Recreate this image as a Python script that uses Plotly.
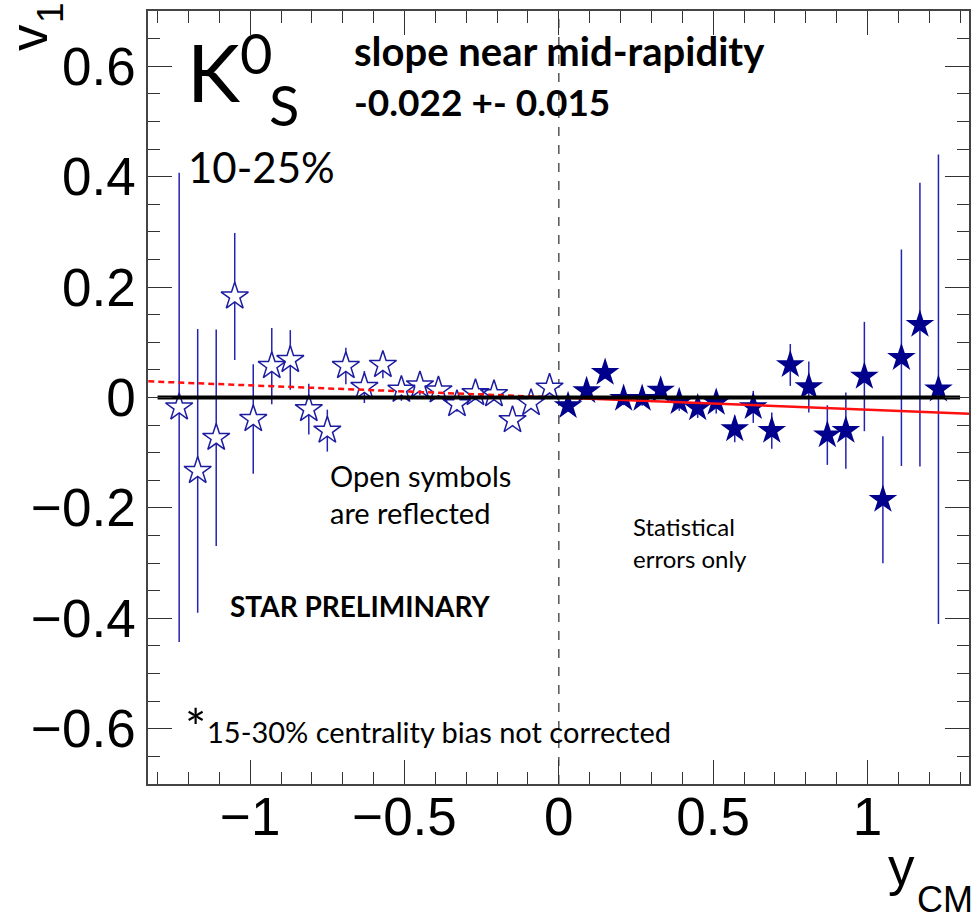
import plotly.graph_objects as go

# ---------------- data ----------------
y_filled = [0.03, 0.09, 0.15, 0.21, 0.27, 0.33, 0.39, 0.45, 0.51, 0.57, 0.63,
            0.69, 0.75, 0.81, 0.87, 0.93, 0.99, 1.05, 1.11, 1.17, 1.23]
v1_filled = [-0.015, 0.012, 0.045, -0.002, -0.002, 0.013, -0.008, -0.019, -0.009, -0.057, -0.017,
             -0.060, 0.059, 0.019, -0.068, -0.060, 0.038, -0.185, 0.072, 0.132, 0.015]
err_filled = [0.011, 0.011, 0.011, 0.012, 0.013, 0.014, 0.016, 0.018, 0.020, 0.024, 0.029,
              0.033, 0.038, 0.046, 0.054, 0.069, 0.099, 0.115, 0.196, 0.257, 0.425]

y_open = [-1.23, -1.17, -1.11, -1.05, -0.99, -0.93, -0.87, -0.81, -0.75, -0.69, -0.63,
          -0.57, -0.51, -0.45, -0.39, -0.33, -0.27, -0.21, -0.15, -0.09, -0.03]
v1_open = [-0.018, -0.133, -0.073, 0.183, -0.039, 0.057, 0.068, -0.021, -0.060, 0.057, 0.019,
           0.059, 0.014, 0.022, 0.013, -0.012, 0.008, 0.006, -0.041, -0.010, 0.018]
err_open = [0.425, 0.257, 0.196, 0.115, 0.099, 0.069, 0.054, 0.046, 0.038, 0.033, 0.029,
            0.024, 0.020, 0.018, 0.016, 0.014, 0.013, 0.012, 0.011, 0.011, 0.011]

fit_slope = -0.022
fit_x_solid = [0.0, 1.33]
fit_x_dashed = [-1.33, 0.0]
zero_x = [-1.3, 1.3]

# ---------------- style ----------------
W, H = 973, 921
L, R, T, B = 148, 4, 11, 137
NAVY = "#00008c"
BAR = "#2323b0"
OPEN = "#1c1ca0"
TEXTFONT = "Lato"
AXFONT = "Liberation Sans, Arial, sans-serif"


def px(xp):
    return (xp - L) / (W - L - R)


def py(yp):
    return (H - B - yp) / (H - B - T)


fig = go.Figure()

# error bars (open)
fig.add_trace(go.Scatter(x=y_open, y=v1_open, mode="markers",
                         marker=dict(size=1, opacity=0),
                         error_y=dict(type="data", array=err_open, color=BAR, thickness=1.5, width=0),
                         hoverinfo="skip", showlegend=False))
# white backing so bars don't show through open stars
fig.add_trace(go.Scatter(x=y_open, y=v1_open, mode="markers",
                         marker=dict(symbol="star", size=20, color="white", line=dict(width=0)),
                         hoverinfo="skip", showlegend=False))
fig.add_trace(go.Scatter(x=y_open, y=v1_open, mode="markers",
                         marker=dict(symbol="star-open", size=20.5, color=OPEN, line=dict(width=1.5, color=OPEN)),
                         showlegend=False))
# filled stars
fig.add_trace(go.Scatter(x=y_filled, y=v1_filled, mode="markers",
                         marker=dict(symbol="star", size=21.5, color=NAVY, line=dict(width=0)),
                         error_y=dict(type="data", array=err_filled, color=BAR, thickness=1.5, width=0),
                         showlegend=False))

# fit lines
fig.add_trace(go.Scatter(x=fit_x_dashed, y=[fit_slope * v for v in fit_x_dashed], mode="lines",
                         line=dict(color="#ff1010", width=2.5, dash="6px,4px"), showlegend=False))
fig.add_trace(go.Scatter(x=fit_x_solid, y=[fit_slope * v for v in fit_x_solid], mode="lines",
                         line=dict(color="#ff1010", width=2.5), showlegend=False))
# zero line
fig.add_trace(go.Scatter(x=zero_x, y=[0, 0], mode="lines",
                         line=dict(color="black", width=4), showlegend=False))

# vertical dashed line at 0
fig.add_shape(type="line", xref="x", yref="paper", x0=0, x1=0, y0=0, y1=1,
              line=dict(color="#555555", width=1.5, dash="dash"), layer="below")

axis_common = dict(showgrid=False, zeroline=False, showline=True, linecolor="#444444", linewidth=1.5,
                   mirror="allticks", ticks="inside", ticklen=24, tickwidth=1.3, tickcolor="#333333",
                   tickfont=dict(family=AXFONT, size=53, color="black"))

fig.update_xaxes(range=[-1.331, 1.329], tick0=0, dtick=0.5, ticklabelstandoff=-14,
                 minor=dict(dtick=0.1, ticks="inside", ticklen=12, tickwidth=1.2, tickcolor="#333333"),
                 **axis_common)
fig.update_yaxes(range=[-0.7, 0.7], tick0=0, dtick=0.2,
                 minor=dict(dtick=0.05, ticks="inside", ticklen=12, tickwidth=1.2, tickcolor="#333333"),
                 **axis_common)


def ann(text, x, y, size, bold=False, family=TEXTFONT, xanchor="left", yanchor="middle", angle=0):
    if bold:
        text = "<b>" + text + "</b>"
    fig.add_annotation(text=text, xref="paper", yref="paper", x=px(x), y=py(y),
                       xanchor=xanchor, yanchor=yanchor, showarrow=False, textangle=angle,
                       font=dict(family=family, size=size, color="black"), borderpad=0)


ann("K", 186, 71, 80)
ann("0", 239, 52, 56)
ann("S", 268, 105, 56)
ann("10-25%", 187, 167, 42)
ann("slope near mid-rapidity", 353, 51, 40, bold=True)
ann("-0.022 +- 0.015", 353, 101, 37, bold=True)
ann("Open symbols", 329, 475, 29)
ann("are reflected", 329, 512, 29)
ann("STAR PRELIMINARY", 229, 606, 28, bold=True)
ann("*", 195, 727, 50, xanchor="center")
ann("15-30% centrality bias not corrected", 206, 731, 29)
ann("Statistical", 632, 526, 24)
ann("errors only", 632, 558, 24)

# axis titles
ann("y", 887, 866, 53, family=AXFONT)
ann("CM", 916, 899, 36, family=AXFONT)
ann("v", 28, 38, 53, family=AXFONT, xanchor="center", angle=-90)
ann("1", 50, 13, 37, family=AXFONT, xanchor="center", angle=-90)

fig.update_layout(width=W, height=H, margin=dict(l=L, r=R, t=T, b=B, autoexpand=False),
                  paper_bgcolor="white", plot_bgcolor="white", showlegend=False)

fig.write_html("out.html")
